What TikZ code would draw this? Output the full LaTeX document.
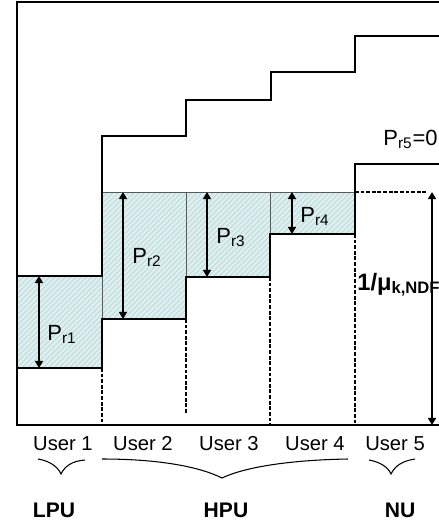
\documentclass[tikz,border=0pt]{standalone}
\usepackage{fontspec}
\setmainfont{Liberation Sans}
\usetikzlibrary{arrows.meta,patterns}
\definecolor{waterfill}{HTML}{DDEFEF}
\definecolor{waterhatch}{HTML}{BAD6D6}
\tikzset{%
  stair/.style={line width=1.7pt},
  frame/.style={line width=0.7pt},
  divider/.style={line width=1.1pt,dash pattern=on 2.2pt off 1pt},
  cell/.style={gray!70!black,line width=0.5pt},
  dimarrow/.style={line width=1.1pt,{Triangle[length=4pt,width=4.5pt]}-{Triangle[length=4pt,width=4.5pt]}},
  brace/.style={line width=0.6pt},
  powlbl/.style={anchor=base west,inner sep=0pt,font=\fontsize{12.5}{14}\selectfont},
  userlbl/.style={anchor=base,inner sep=0pt,font=\fontsize{11.5}{13}\selectfont},
  classlbl/.style={anchor=base,inner sep=0pt,font=\fontsize{12}{14}\selectfont\bfseries},
}

\begin{document}
\begin{tikzpicture}[x=0.02cm,y=-0.02cm]
  \useasboundingbox (0,0) rectangle (439,527);

  % water-filled power
  \fill[waterfill] (17,276) rectangle (102,368);
  \fill[waterfill] (102,192) -- (355,192) -- (355,234) -- (270,234) -- (270,277)
    -- (186,277) -- (186,319) -- (102,319) -- cycle;
  \fill[pattern=north east lines,pattern color=waterhatch] (17,276) rectangle (102,368);
  \fill[pattern=north east lines,pattern color=waterhatch] (102,192) -- (355,192) -- (355,234)
    -- (270,234) -- (270,277) -- (186,277) -- (186,319) -- (102,319) -- cycle;
  \draw[cell] (102,192) -- (355,192);
  \draw[cell] (102,276) -- (102,319);
  \draw[cell] (186,192) -- (186,277);
  \draw[cell] (270,192) -- (270,234);

  % axes
  \draw[frame] (439,2) -- (17,2) -- (17,425) -- (439,425);

  % staircases
  \draw[stair] (17,276) -- (102,276) -- (102,136) -- (186,136) -- (186,100) -- (271,100)
    -- (271,72) -- (355,72) -- (355,36) -- (439,36);
  \draw[stair] (17,368) -- (102,368) -- (102,319) -- (186,319) -- (186,277) -- (270,277)
    -- (270,234) -- (355,234) -- (355,164) -- (439,164);

  % user borders
  \draw[divider] (102,368) -- (102,425);
  \draw[divider] (186,319) -- (186,414);
  \draw[divider] (270,277) -- (270,425);
  \draw[divider] (355,234) -- (355,425);
  \draw[divider] (355,192) -- (428,192);

  % power arrows
  \foreach \n/\x/\t/\b in {1/39/276/368,2/123/192/319,3/207/192/277,4/292/192/234,5/432/192/425}{
    \coordinate (top\n) at (\x,\t);
    \coordinate (bot\n) at (\x,\b);
    \draw[dimarrow] (top\n) -- (bot\n);
  }

  \node[powlbl] (pr1) at (47,340) {P\textsubscript{r1}};
  \node[powlbl] (pr2) at (132,263) {P\textsubscript{r2}};
  \node[powlbl] (pr3) at (216,243) {P\textsubscript{r3}};
  \node[powlbl] (pr4) at (300,222) {P\textsubscript{r4}};
  \node[powlbl] (pr5) at (383,145) {P\textsubscript{r5}=0};
  \node[powlbl,font=\fontsize{13.5}{15}\selectfont\bfseries] (level) at (357,290) {1/μ\textsubscript{k,NDF}};

  % users and classes
  \foreach \n/\x in {1/63,2/143,3/229,4/315,5/395}
    \node[userlbl] (user\n) at (\x,450) {User \n};

  \coordinate (lpuL) at (38,459);  \coordinate (lpuT) at (61,474);  \coordinate (lpuR) at (85,460);
  \coordinate (hpuL) at (102,459); \coordinate (hpuT) at (222,478); \coordinate (hpuR) at (348,459);
  \coordinate (nuL) at (369,460);  \coordinate (nuT) at (391,474);  \coordinate (nuR) at (415,459);
  \draw[brace] (lpuL) .. controls (50,461) and (58,467) .. (lpuT) .. controls (65,466) and (72,461) .. (lpuR);
  \draw[brace] (hpuL) .. controls (160,459) and (200,467) .. (hpuT) .. controls (245,467) and (290,460) .. (hpuR);
  \draw[brace] (nuL) .. controls (380,462) and (388,467) .. (nuT) .. controls (395,466) and (402,461) .. (nuR);

  \node[classlbl] (lpu) at (54,517) {LPU};
  \node[classlbl] (hpu) at (226,517) {HPU};
  \node[classlbl] (nu) at (400,517) {NU};
\end{tikzpicture}
\end{document}
